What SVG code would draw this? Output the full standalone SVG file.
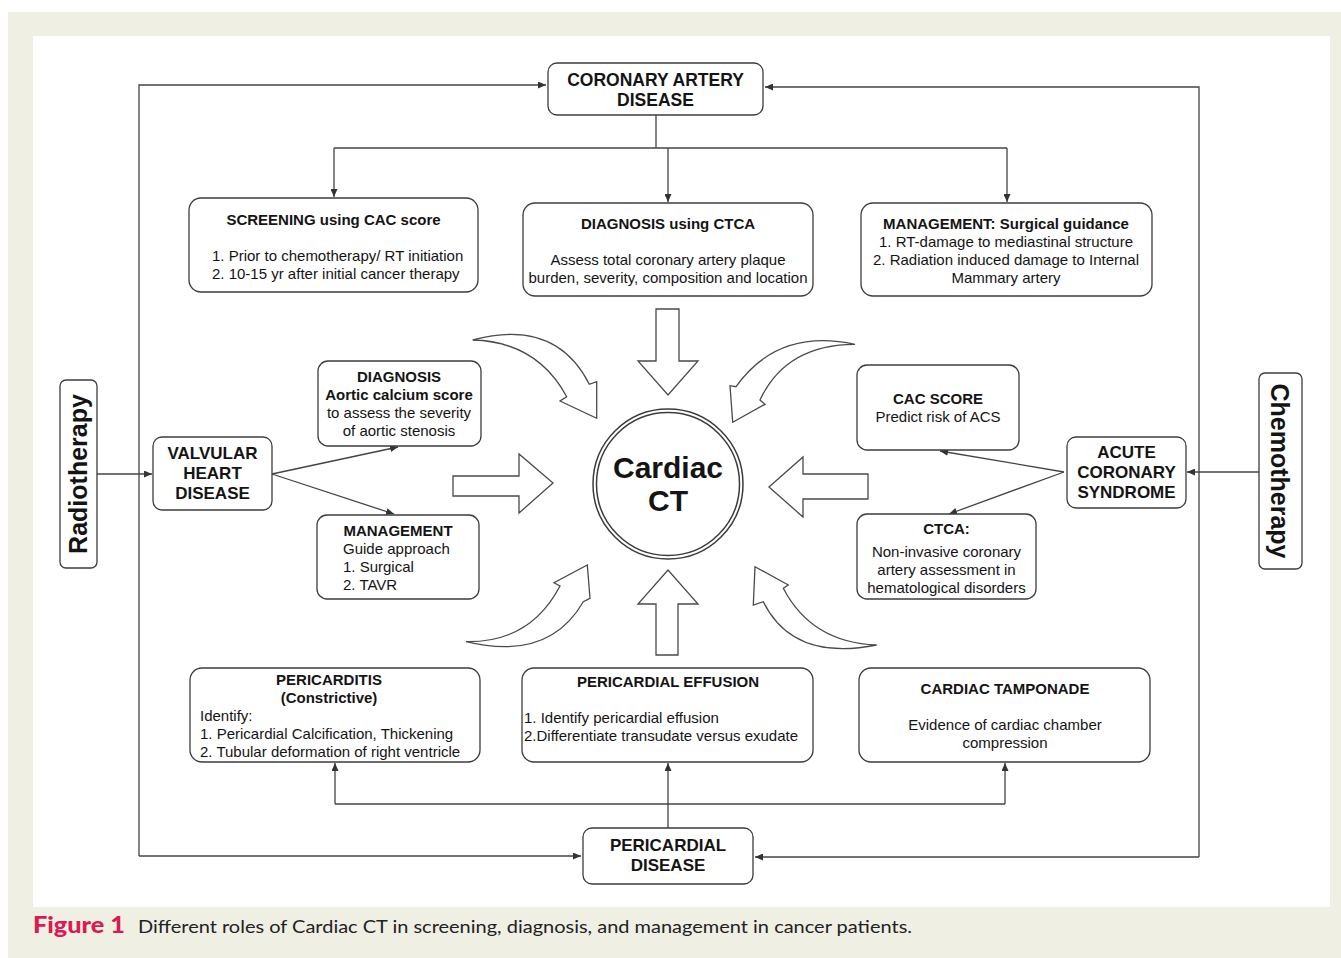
<svg xmlns="http://www.w3.org/2000/svg" width="1341" height="958" viewBox="0 0 1341 958">
<style>
.box{fill:#fff;stroke:#3c3c3c;stroke-width:1.3}
.t{font-family:"Liberation Sans",Arial,sans-serif;font-size:15px;fill:#141414}
.b{font-weight:bold}
.c{text-anchor:middle}
.h17{font-size:17px}
.h18{font-size:17.5px}
.conn{fill:none;stroke:#444;stroke-width:1.3}
.blk{fill:#fff;stroke:#4a4a4a;stroke-width:1.3;stroke-linejoin:miter}
</style>
<defs>
<marker id="ah" markerUnits="userSpaceOnUse" markerWidth="8" markerHeight="7" refX="8" refY="3.5" orient="auto">
<path d="M0,0 L8,3.5 L0,7 z" fill="#333"/>
</marker>
</defs>
<rect x="0" y="0" width="1341" height="958" fill="#fff"/>
<rect x="8" y="12" width="1333" height="946" fill="#efefe4"/>
<rect x="33" y="36" width="1297" height="871" fill="#fff"/>

<g id="connectors">
<path class="conn" d="M139,856 L139,85 L546,85" marker-end="url(#ah)"/>
<path class="conn" d="M1199,857 L1199,87 L765,87" marker-end="url(#ah)"/>
<path class="conn" d="M139,856 L581,856" marker-end="url(#ah)"/>
<path class="conn" d="M1199,857 L755,857" marker-end="url(#ah)"/>
<path class="conn" d="M656,115 L656,148"/>
<path class="conn" d="M334,148 L1007,148"/>
<path class="conn" d="M334,148 L334,197" marker-end="url(#ah)"/>
<path class="conn" d="M668,148 L668,202" marker-end="url(#ah)"/>
<path class="conn" d="M1007,148 L1007,202" marker-end="url(#ah)"/>
<path class="conn" d="M97,474 L152,474" marker-end="url(#ah)"/>
<path class="conn" d="M1259,472 L1187,472" marker-end="url(#ah)"/>
<path class="conn" d="M272,474 L398,447" marker-end="url(#ah)"/>
<path class="conn" d="M272,474 L394,514" marker-end="url(#ah)"/>
<path class="conn" d="M1064,472 L940,451" marker-end="url(#ah)"/>
<path class="conn" d="M1064,472 L949,514" marker-end="url(#ah)"/>
<path class="conn" d="M668,828 L668,763" marker-end="url(#ah)"/>
<path class="conn" d="M335,804 L1005,804"/>
<path class="conn" d="M335,804 L335,763" marker-end="url(#ah)"/>
<path class="conn" d="M1005,804 L1005,763" marker-end="url(#ah)"/>
</g>

<g id="block-arrows">
<path class="blk" d="M656,309 L679,309 L679,361 L698,361 L668,395 L638,361 L656,361 Z"/>
<path class="blk" d="M656,655 L678,655 L678,604 L698,604 L668,570 L638,604 L656,604 Z"/>
<path class="blk" d="M453,476 L519,476 L519,454 L553,483 L519,513 L519,496 L453,496 Z"/>
<path class="blk" d="M868,474 L803,474 L803,457 L769,487 L803,517 L803,499 L868,499 Z"/>
<path class="blk" d="M472.7,340 Q555.7,317.8 589.3,384.3 L596.7,381.7 L596.7,418.3 L560,401 L566.7,396.7 Q537,341.7 472.7,340 Z"/>
<path class="blk" d="M855,344.3 Q777.8,327.8 736,386.7 L730,385.7 L732.7,422.3 L765,404.3 L760,400 Q785.8,344.5 855,344.3 Z"/>
<path class="blk" d="M466,641.7 Q548.7,661.7 583.3,601.7 L590,598.3 L587.3,565 L554,582.7 L560,586 Q530.3,642.8 466,641.7 Z"/>
<path class="blk" d="M876.7,645 Q793,661.7 763.3,601.7 L753.3,605 L755,566.7 L788.3,585 L783.3,588.3 Q811.7,642.8 876.7,645 Z"/>
</g>

<g id="cardiac-ct">
<circle cx="668" cy="484" r="75" fill="#fff" stroke="#3c3c3c" stroke-width="1.5"/>
<circle cx="668" cy="484" r="71.5" fill="none" stroke="#3c3c3c" stroke-width="1.5"/>
<text class="t b c" x="668" y="478" style="font-size:30px">Cardiac</text>
<text class="t b c" x="668" y="511" style="font-size:30px">CT</text>
</g>

<g id="cad">
<rect class="box" x="548" y="63" width="215" height="52" rx="9"/>
<text class="t b c h18" x="655.5" y="86">CORONARY ARTERY</text>
<text class="t b c h18" x="655.5" y="106">DISEASE</text>
</g>

<g id="screening">
<rect class="box" x="189" y="198" width="289" height="94" rx="12"/>
<text class="t b c" x="333.5" y="225">SCREENING using CAC score</text>
<text class="t" x="212" y="261">1. Prior to chemotherapy/ RT initiation</text>
<text class="t" x="212" y="279">2. 10-15 yr after initial cancer therapy</text>
</g>

<g id="diagnosis-ctca">
<rect class="box" x="523" y="203" width="290" height="93" rx="12"/>
<text class="t b c" x="668" y="229">DIAGNOSIS using CTCA</text>
<text class="t c" x="668" y="265">Assess  total coronary artery plaque</text>
<text class="t c" x="668" y="283">burden, severity, composition and location</text>
</g>

<g id="management-surgical">
<rect class="box" x="861" y="203" width="291" height="93" rx="12"/>
<text class="t b c" x="1006" y="229">MANAGEMENT: Surgical guidance</text>
<text class="t c" x="1006" y="247">1. RT-damage to mediastinal structure</text>
<text class="t c" x="1006" y="265">2. Radiation induced damage to Internal</text>
<text class="t c" x="1006" y="283">Mammary artery</text>
</g>

<g id="radiotherapy">
<rect class="box" x="60" y="380" width="37" height="188" rx="6"/>
<text class="t b c" transform="translate(87,474) rotate(-90)" x="0" y="0" style="font-size:25px">Radiotherapy</text>
</g>

<g id="chemotherapy">
<rect class="box" x="1259" y="373" width="43" height="196" rx="6"/>
<text class="t b c" transform="translate(1271,471) rotate(90)" x="0" y="0" style="font-size:25px">Chemotherapy</text>
</g>

<g id="valvular">
<rect class="box" x="153" y="437" width="119" height="73" rx="9"/>
<text class="t b c h17" x="212.5" y="459">VALVULAR</text>
<text class="t b c h17" x="212.5" y="479">HEART</text>
<text class="t b c h17" x="212.5" y="499">DISEASE</text>
</g>

<g id="valve-diagnosis">
<rect class="box" x="318" y="361" width="163" height="85" rx="10"/>
<text class="t b c" x="399" y="382">DIAGNOSIS</text>
<text class="t b c" x="399" y="400">Aortic calcium score</text>
<text class="t c" x="399" y="418">to assess the severity</text>
<text class="t c" x="399" y="436">of aortic stenosis</text>
</g>

<g id="valve-management">
<rect class="box" x="317" y="515" width="162" height="84" rx="10"/>
<text class="t b c" x="398" y="536">MANAGEMENT</text>
<text class="t" x="343" y="554">Guide approach</text>
<text class="t" x="343" y="572">1. Surgical</text>
<text class="t" x="343" y="590">2. TAVR</text>
</g>

<g id="acs">
<rect class="box" x="1067" y="437" width="119" height="71" rx="9"/>
<text class="t b c h17" x="1126.5" y="458">ACUTE</text>
<text class="t b c h17" x="1126.5" y="478">CORONARY</text>
<text class="t b c h17" x="1126.5" y="498">SYNDROME</text>
</g>

<g id="cac-score">
<rect class="box" x="857" y="365" width="162" height="85" rx="10"/>
<text class="t b c" x="938" y="404">CAC SCORE</text>
<text class="t c" x="938" y="422">Predict risk of ACS</text>
</g>

<g id="ctca">
<rect class="box" x="857" y="514" width="179" height="85" rx="10"/>
<text class="t b c" x="946.5" y="534">CTCA:</text>
<text class="t c" x="946.5" y="557">Non-invasive coronary</text>
<text class="t c" x="946.5" y="575">artery assessment in</text>
<text class="t c" x="946.5" y="593">hematological disorders</text>
</g>

<g id="pericarditis">
<rect class="box" x="190" y="668" width="290" height="94" rx="12"/>
<text class="t b c" x="329" y="685">PERICARDITIS</text>
<text class="t b c" x="329" y="703">(Constrictive)</text>
<text class="t" x="200" y="721">Identify:</text>
<text class="t" x="200" y="739">1. Pericardial Calcification, Thickening</text>
<text class="t" x="200" y="757">2. Tubular deformation of right ventricle</text>
</g>

<g id="effusion">
<rect class="box" x="522" y="668" width="291" height="94" rx="12"/>
<text class="t b c" x="668" y="687">PERICARDIAL EFFUSION</text>
<text class="t" x="524" y="723">1. Identify pericardial effusion</text>
<text class="t" x="524" y="741">2.Differentiate transudate versus exudate</text>
</g>

<g id="tamponade">
<rect class="box" x="859" y="668" width="291" height="94" rx="12"/>
<text class="t b c" x="1005" y="694">CARDIAC TAMPONADE</text>
<text class="t c" x="1005" y="730">Evidence of cardiac chamber</text>
<text class="t c" x="1005" y="748">compression</text>
</g>

<g id="pericardial-disease">
<rect class="box" x="583" y="828" width="170" height="56" rx="9"/>
<text class="t b c h17" x="668" y="851">PERICARDIAL</text>
<text class="t b c h17" x="668" y="871">DISEASE</text>
</g>

<g id="caption">
<text x="33" y="933" textLength="92" lengthAdjust="spacingAndGlyphs" style="font-family:Lato,'Open Sans',sans-serif;font-weight:900;font-size:23px;fill:#d81b52">Figure 1</text>
<text x="138" y="933" textLength="774" lengthAdjust="spacingAndGlyphs" style="font-family:Lato,'Open Sans',sans-serif;font-size:18px;fill:#222">Different roles of Cardiac CT in screening, diagnosis, and management in cancer patients.</text>
</g>
</svg>
